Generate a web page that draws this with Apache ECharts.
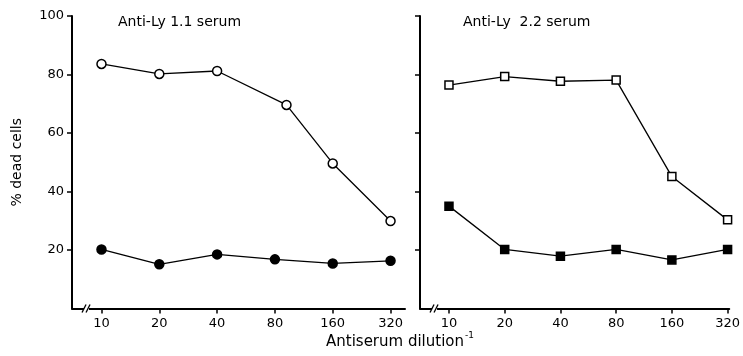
<!DOCTYPE html>
<html>
<head>
<meta charset="utf-8">
<script src="https://cdn.jsdelivr.net/npm/echarts@6/dist/echarts.min.js"></script>
<style>
html,body{margin:0;padding:0;background:#fff}
#main{width:743px;height:356px}
</style>
</head>
<body>
<div id="main"></div>
<script>
// dilution categories (x positions 0..5 on the axis)
var dilutions = ['10', '20', '40', '80', '160', '320'];
var dilutionPos = [0, 1, 2, 3, 4, 5];
var yTicks = [20, 40, 60, 80, 100];

// Anti-Ly 1.1 serum
var ly11OpenX = [0, 1, 2, 3.2, 4, 5]; // the 1:80 open point is drawn a bit to the right in the figure
var ly11Open = [83.6, 80.2, 81.2, 69.6, 49.6, 29.9];
var ly11FilledX = [0, 1, 2, 3, 4, 5];
var ly11Filled = [20.2, 15.1, 18.5, 16.8, 15.4, 16.3];

// Anti-Ly 2.2 serum
var ly22X = [0, 1, 2, 3, 4, 5];
var ly22Open = [76.4, 79.3, 77.7, 78.1, 45.1, 30.3];
var ly22Filled = [35.0, 20.2, 17.9, 20.2, 16.6, 20.2];

function pairs(xs, ys) {
	var out = [];
	for(var i = 0; i < ys.length; i++) {
		out.push([xs[i], ys[i]]);
	}
	return out;
}

var FONT = 'DejaVu Sans';
var chart = echarts.init(document.getElementById('main'));

function xAxis(gridIndex, min, max) {
	return {
		type: 'value',
		gridIndex: gridIndex,
		min: min,
		max: max,
		splitLine: { show: false },
		axisLine: { onZero: false, lineStyle: { color: '#000', width: 2 } },
		axisTick: { customValues: dilutionPos, length: 5, lineStyle: { color: '#000', width: 1.5 } },
		axisLabel: {
			customValues: dilutionPos,
			color: '#000',
			fontFamily: FONT,
			fontSize: 13,
			margin: 9,
			formatter: function(v) { return dilutions[Math.round(v)]; }
		}
	};
}

function yAxis(gridIndex, showLabel) {
	return {
		type: 'value',
		gridIndex: gridIndex,
		min: 0,
		max: 100,
		splitLine: { show: false },
		axisLine: { onZero: false, lineStyle: { color: '#000', width: 2 } },
		axisTick: { customValues: yTicks, length: 5, lineStyle: { color: '#000', width: 1.5 } },
		axisLabel: {
			show: showLabel,
			customValues: yTicks,
			color: '#000',
			fontFamily: FONT,
			fontSize: 13,
			margin: 8
		},
		name: showLabel ? '% dead cells' : '',
		nameLocation: 'middle',
		nameGap: 48,
		nameTextStyle: { color: '#000', fontFamily: FONT, fontSize: 14 }
	};
}

function line(name, xi, data, symbol, filled, size) {
	return {
		name: name,
		type: 'line',
		xAxisIndex: xi,
		yAxisIndex: xi,
		data: data,
		symbol: symbol,
		symbolSize: size,
		clip: false,
		lineStyle: { color: '#000', width: 1.3 },
		itemStyle: { color: filled ? '#000' : '#fff', borderColor: '#000', borderWidth: 1.5 }
	};
}

var option = {
	animation: false,
	backgroundColor: '#fff',
	grid: [
		{ left: 72, right: 338, top: 16, bottom: 47.5 },
		{ left: 420, right: 3, top: 16, bottom: 47.5 }
	],
	xAxis: [xAxis(0, -0.51, 5.25), xAxis(1, -0.52, 5.03)],
	yAxis: [yAxis(0, true), yAxis(1, false)],
	series: [
		line('Ly1.1 open', 0, pairs(ly11OpenX, ly11Open), 'circle', false, 9),
		line('Ly1.1 filled', 0, pairs(ly11FilledX, ly11Filled), 'circle', true, 9),
		line('Ly2.2 open', 1, pairs(ly22X, ly22Open), 'rect', false, 8),
		line('Ly2.2 filled', 1, pairs(ly22X, ly22Filled), 'rect', true, 8)
	]
};
chart.setOption(option);

// axis break marks "//" just right of each y axis
function breakMark(gi) {
	var p = chart.convertToPixel({ xAxisIndex: gi, yAxisIndex: gi }, [-0.25, 0]);
	var x = p[0], y = p[1];
	return [
		{ type: 'rect', shape: { x: x - 3, y: y - 2, width: 5, height: 4 }, style: { fill: '#fff' }, z: 100 },
		{ type: 'line', shape: { x1: x - 5, y1: y + 4, x2: x - 1, y2: y - 4 }, style: { stroke: '#000', lineWidth: 1.3 }, z: 101 },
		{ type: 'line', shape: { x1: x - 1, y1: y + 4, x2: x + 3, y2: y - 4 }, style: { stroke: '#000', lineWidth: 1.3 }, z: 101 }
	];
}

chart.setOption({
	graphic: [].concat(breakMark(0), breakMark(1), [
		{ type: 'text', left: 118, top: 15, style: { text: 'Anti-Ly 1.1 serum', fill: '#000', font: '14px "DejaVu Sans"' } },
		{ type: 'text', left: 463, top: 15, style: { text: 'Anti-Ly  2.2 serum', fill: '#000', font: '14px "DejaVu Sans"' } },
		{ type: 'text', left: 326, top: 335, style: { text: 'Antiserum dilution', fill: '#000', font: '15px "DejaVu Sans"' } },
		{ type: 'text', left: 465, top: 331, style: { text: '-1', fill: '#000', font: '9px "DejaVu Sans"' } }
	])
});
</script>
</body>
</html>
